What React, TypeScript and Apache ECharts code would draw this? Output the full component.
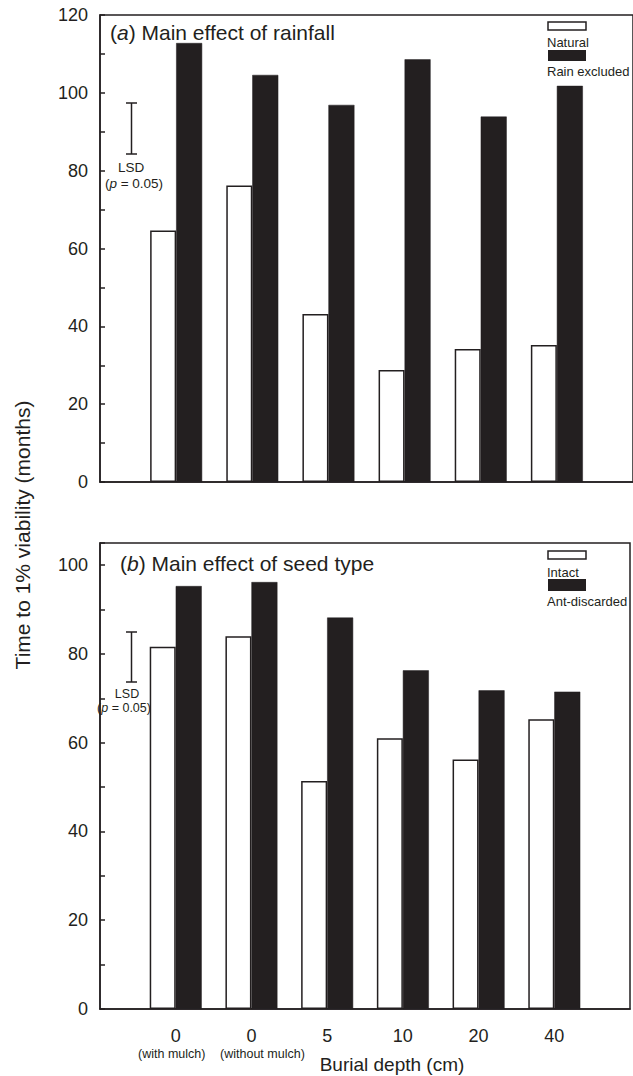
import React, { useEffect, useRef } from "react";
import * as echarts from "echarts";

const categories = ["", "0|(with mulch)", "0|(without mulch)", "5", "10", "20", "40", ""];
const naturalValues = [null, 64.6, 76.2, 43.2, 28.8, 34.2, 35.2, null];
const rainExcludedValues = [null, 112.8, 104.6, 96.9, 108.6, 93.9, 101.8, null];
const intactValues = [null, 81.6, 84.0, 51.4, 61.0, 56.2, 65.3, null];
const antDiscardedValues = [null, 95.3, 96.2, 88.2, 76.3, 71.8, 71.5, null];
const yMaxTop = 120;
const yMaxBottom = 105;

const INK = "#231f20";
const FONT = "'Liberation Sans', Arial, Helvetica, sans-serif";

export default function App() {
  const ref = useRef<HTMLDivElement>(null);
  useEffect(() => {
    if (!ref.current) return;
    const chart = echarts.init(ref.current, null, { renderer: "svg" });
    const yAxisBase = (max: number, gridIndex: number) => ({
      type: "value",
      gridIndex,
      min: 0,
      max,
      interval: 10,
      axisLine: { show: true, lineStyle: { color: INK, width: 1.5 } },
      axisTick: { show: true, inside: true, length: 5, lineStyle: { color: INK, width: 1.5 } },
      splitLine: { show: false },
      axisLabel: {
        color: INK,
        fontFamily: FONT,
        fontSize: 18,
        margin: 12,
        formatter: (v: number) => (v % 20 === 0 ? String(v) : ""),
      },
    });
    const xAxisBase = (gridIndex: number, showLabels: boolean) => ({
      type: "category",
      gridIndex,
      data: categories,
      boundaryGap: false,
      axisLine: { show: true, lineStyle: { color: INK, width: 1.5 } },
      axisTick: { show: false },
      splitLine: { show: false },
      axisLabel: {
        show: showLabels,
        interval: 0,
        margin: 17,
        color: INK,
        fontFamily: FONT,
        formatter: (v: string, idx: number) => {
          if (!v) return "";
          const parts = v.split("|");
          if (parts.length > 1) {
            const style = idx === 1 ? "s1" : "s2";
            return `{n|${parts[0]}}\n{${style}|${parts[1]}}`;
          }
          return `{n|${parts[0]}}`;
        },
        rich: {
          n: { fontSize: 18, fontFamily: FONT, color: INK, lineHeight: 20 },
          s1: { fontSize: 12.5, fontFamily: FONT, color: INK, lineHeight: 15, padding: [0, 8, 0, 0] },
          s2: { fontSize: 12.5, fontFamily: FONT, color: INK, lineHeight: 15, padding: [0, 0, 0, 22] },
        },
      },
    });
    const whiteStyle = { color: "#ffffff", borderColor: INK, borderWidth: 1.5 };
    const blackStyle = { color: INK, borderColor: INK, borderWidth: 0.5 };

    const lsd = (x: number, y1: number, y2: number) => [
      { type: "line", shape: { x1: x, y1, x2: x, y2 }, style: { stroke: INK, lineWidth: 1.5 } },
      { type: "line", shape: { x1: x - 5.5, y1, x2: x + 5.5, y2: y1 }, style: { stroke: INK, lineWidth: 1.5 } },
      { type: "line", shape: { x1: x - 5.5, y1: y2, x2: x + 5.5, y2 }, style: { stroke: INK, lineWidth: 1.5 } },
    ];
    const txt = (text: string, x: number, y: number, size: number, align = "left") => ({
      type: "text",
      x,
      y,
      style: {
        text,
        fill: INK,
        fontSize: size,
        fontFamily: FONT,
        textAlign: align,
        textVerticalAlign: "middle",
        rich: {
          i: { fontStyle: "italic", fontSize: size, fontFamily: FONT, fill: INK },
        },
      },
    });

    chart.setOption({
      animation: false,
      backgroundColor: "#ffffff",
      textStyle: { fontFamily: FONT, color: INK },
      grid: [
        { left: 100, top: 15, width: 536, height: 467, show: true, borderColor: INK, borderWidth: 1.5, backgroundColor: "transparent" },
        { left: 100, top: 543, width: 536, height: 466, show: true, borderColor: INK, borderWidth: 1.5, backgroundColor: "transparent" },
      ],
      xAxis: [xAxisBase(0, false), xAxisBase(1, true)],
      yAxis: [yAxisBase(yMaxTop, 0), yAxisBase(yMaxBottom, 1)],
      series: [
        { name: "Natural", type: "bar", xAxisIndex: 0, yAxisIndex: 0, data: naturalValues, barWidth: 26, barGap: "0%", itemStyle: whiteStyle },
        { name: "Rain excluded", type: "bar", xAxisIndex: 0, yAxisIndex: 0, data: rainExcludedValues, barWidth: 26, barGap: "0%", itemStyle: blackStyle },
        { name: "Intact", type: "bar", xAxisIndex: 1, yAxisIndex: 1, data: intactValues, barWidth: 26, barGap: "0%", itemStyle: whiteStyle },
        { name: "Ant-discarded", type: "bar", xAxisIndex: 1, yAxisIndex: 1, data: antDiscardedValues, barWidth: 26, barGap: "0%", itemStyle: blackStyle },
      ],
      graphic: [
        txt("({i|a}) Main effect of rainfall", 110, 32, 21),
        txt("({i|b}) Main effect of seed type", 120, 563, 21),
        // legends
        { type: "rect", shape: { x: 548, y: 22, width: 38, height: 8 }, style: { fill: "#fff", stroke: INK, lineWidth: 1.5 } },
        txt("Natural", 547, 42, 13),
        { type: "rect", shape: { x: 548, y: 50, width: 38, height: 11 }, style: { fill: INK } },
        txt("Rain excluded", 547, 71, 13),
        { type: "rect", shape: { x: 548, y: 551, width: 38, height: 8 }, style: { fill: "#fff", stroke: INK, lineWidth: 1.5 } },
        txt("Intact", 547, 572, 13),
        { type: "rect", shape: { x: 548, y: 579, width: 38, height: 12 }, style: { fill: INK } },
        txt("Ant-discarded", 547, 601, 13),
        // LSD bars
        ...lsd(131.5, 103, 154),
        txt("LSD", 131, 167, 13.5, "center"),
        txt("({i|p} = 0.05)", 134, 183, 13.5, "center"),
        ...lsd(131.5, 632, 682),
        txt("LSD", 127, 694, 12.5, "center"),
        txt("({i|p} = 0.05)", 124, 708, 12.5, "center"),
        // axis titles
        { ...txt("Time to 1% viability (months)", 22, 535, 21, "center"), rotation: Math.PI / 2 },
        txt("Burial depth (cm)", 392, 1064, 19, "center"),
      ],
    });
    return () => chart.dispose();
  }, []);
  return (
    <div
      ref={ref}
      style={{ position: "absolute", left: 0, top: 0, width: 633, height: 1076, background: "#fff" }}
    />
  );
}
